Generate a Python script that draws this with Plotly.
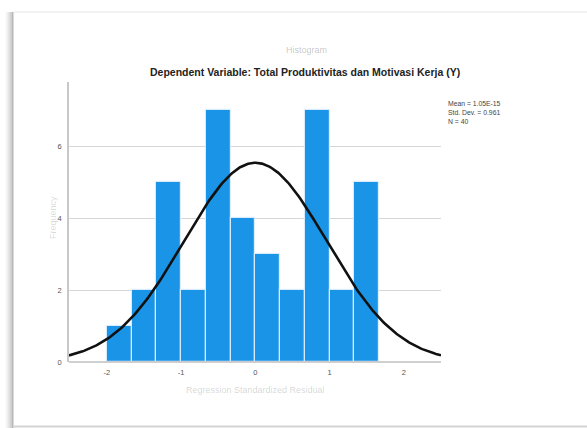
import numpy as np
import plotly.graph_objects as go

# ---- data ----
bin_edges_start = -2.0
bin_width = 1/3
counts = [1, 2, 5, 2, 7, 4, 3, 2, 7, 2, 5]
mean_val = 1.05e-15
std_val = 0.961
n_val = 40
x_ticks = [-2, -1, 0, 1, 2]
y_ticks = [0, 2, 4, 6]
title_top = "Histogram"
title_main = "Dependent Variable: Total Produktivitas dan Motivasi Kerja (Y)"
x_title = "Regression Standardized Residual"
y_title = "Frequency"
stats_lines = ["Mean = 1.05E-15", "Std. Dev. = 0.961", "N = 40"]

centers = [bin_edges_start + bin_width * (i + 0.5) for i in range(len(counts))]

# fitted normal curve (from the stats shown)
xs = np.linspace(-2.51, 2.5, 300)
ys = n_val * bin_width / (std_val * np.sqrt(2 * np.pi)) * np.exp(-0.5 * ((xs - mean_val) / std_val) ** 2)

W, H = 587, 428
L, R, T, B = 69, 441, 82, 362

def px(xp):
    return (xp - L) / (R - L)

def py(yp):
    return (B - yp) / (B - T)

FONT = "Liberation Sans, Arial"

fig = go.Figure()
fig.add_trace(go.Bar(
    x=centers, y=counts, width=bin_width,
    marker=dict(color="#1a94e6", line=dict(color="rgba(225,240,255,0.9)", width=1.2)),
    hoverinfo="skip",
))
fig.add_trace(go.Scatter(
    x=xs, y=ys, mode="lines",
    line=dict(color="#111111", width=2.6),
    hoverinfo="skip",
))

shapes = []
# drop shadow on left of frame
for i, a in enumerate([0.03, 0.05, 0.08, 0.11, 0.15, 0.2]):
    xx = 6 + i
    shapes.append(dict(type="line", xref="paper", yref="paper",
                       x0=px(xx), x1=px(xx), y0=py(12), y1=py(428),
                       line=dict(color=f"rgba(0,0,0,{a})", width=1)))
# frame edges
shapes.append(dict(type="line", xref="paper", yref="paper",
                   x0=px(12.5), x1=px(12.5), y0=py(12), y1=py(428),
                   line=dict(color="#b8b8b8", width=2)))
shapes.append(dict(type="line", xref="paper", yref="paper",
                   x0=px(13), x1=px(587), y0=py(12), y1=py(12),
                   line=dict(color="#e6e6e6", width=1)))
shapes.append(dict(type="line", xref="paper", yref="paper",
                   x0=px(13), x1=px(587), y0=py(426.5), y1=py(426.5),
                   line=dict(color="#d4d4d4", width=2)))
# bottom axis line
shapes.append(dict(type="line", xref="paper", yref="paper", x0=0, x1=1, y0=0, y1=0,
                   line=dict(color="#c0c0c0", width=1.5), layer="above"))

annotations = [
    dict(text=title_top, xref="paper", yref="paper", x=px(306), y=py(50),
         showarrow=False, font=dict(family=FONT, size=9, color="rgba(60,60,60,0.3)"),
         xanchor="center", yanchor="middle"),
    dict(text="<b>" + title_main + "</b>", xref="paper", yref="paper", x=px(305), y=py(72),
         showarrow=False, font=dict(family=FONT, size=10.5, color="#222222"),
         xanchor="center", yanchor="middle"),
    dict(text=x_title, xref="paper", yref="paper", x=px(255), y=py(390),
         showarrow=False, font=dict(family=FONT, size=9, color="rgba(60,60,60,0.22)"),
         xanchor="center", yanchor="middle"),
    dict(text=y_title, xref="paper", yref="paper", x=px(53), y=py(218),
         showarrow=False, textangle=-90,
         font=dict(family=FONT, size=9, color="rgba(60,60,60,0.2)"),
         xanchor="center", yanchor="middle"),
    dict(text="<br>".join(stats_lines), xref="paper", yref="paper", x=px(446), y=py(98),
         showarrow=False, align="left",
         font=dict(family=FONT, size=6.8, color="#444444"),
         xanchor="left", yanchor="top"),
]

fig.update_layout(
    width=W, height=H,
    margin=dict(l=L, r=W - R, t=T, b=H - B, pad=0),
    paper_bgcolor="white", plot_bgcolor="white",
    showlegend=False, bargap=0,
    shapes=shapes, annotations=annotations,
    xaxis=dict(range=[-2.51, 2.5], tickvals=x_ticks, ticktext=[str(v) for v in x_ticks],
               showgrid=False, zeroline=False, showline=False, ticks="",
               tickfont=dict(family=FONT, size=7.5, color="#555555"),
               ticklabelstandoff=4),
    yaxis=dict(range=[0, 7.78], tickvals=y_ticks, ticktext=[str(v) for v in y_ticks],
               showgrid=True, gridcolor="#d6d6d6", gridwidth=1,
               zeroline=False, showline=True, linecolor="#c8c8c8", linewidth=1.5,
               ticks="", tickfont=dict(family=FONT, size=7.5, color="#555555"),
               ticklabelstandoff=4),
)

fig.write_html("out.html", config={"displayModeBar": False},
               post_script="document.body.style.margin='0';document.body.style.overflow='hidden';")
